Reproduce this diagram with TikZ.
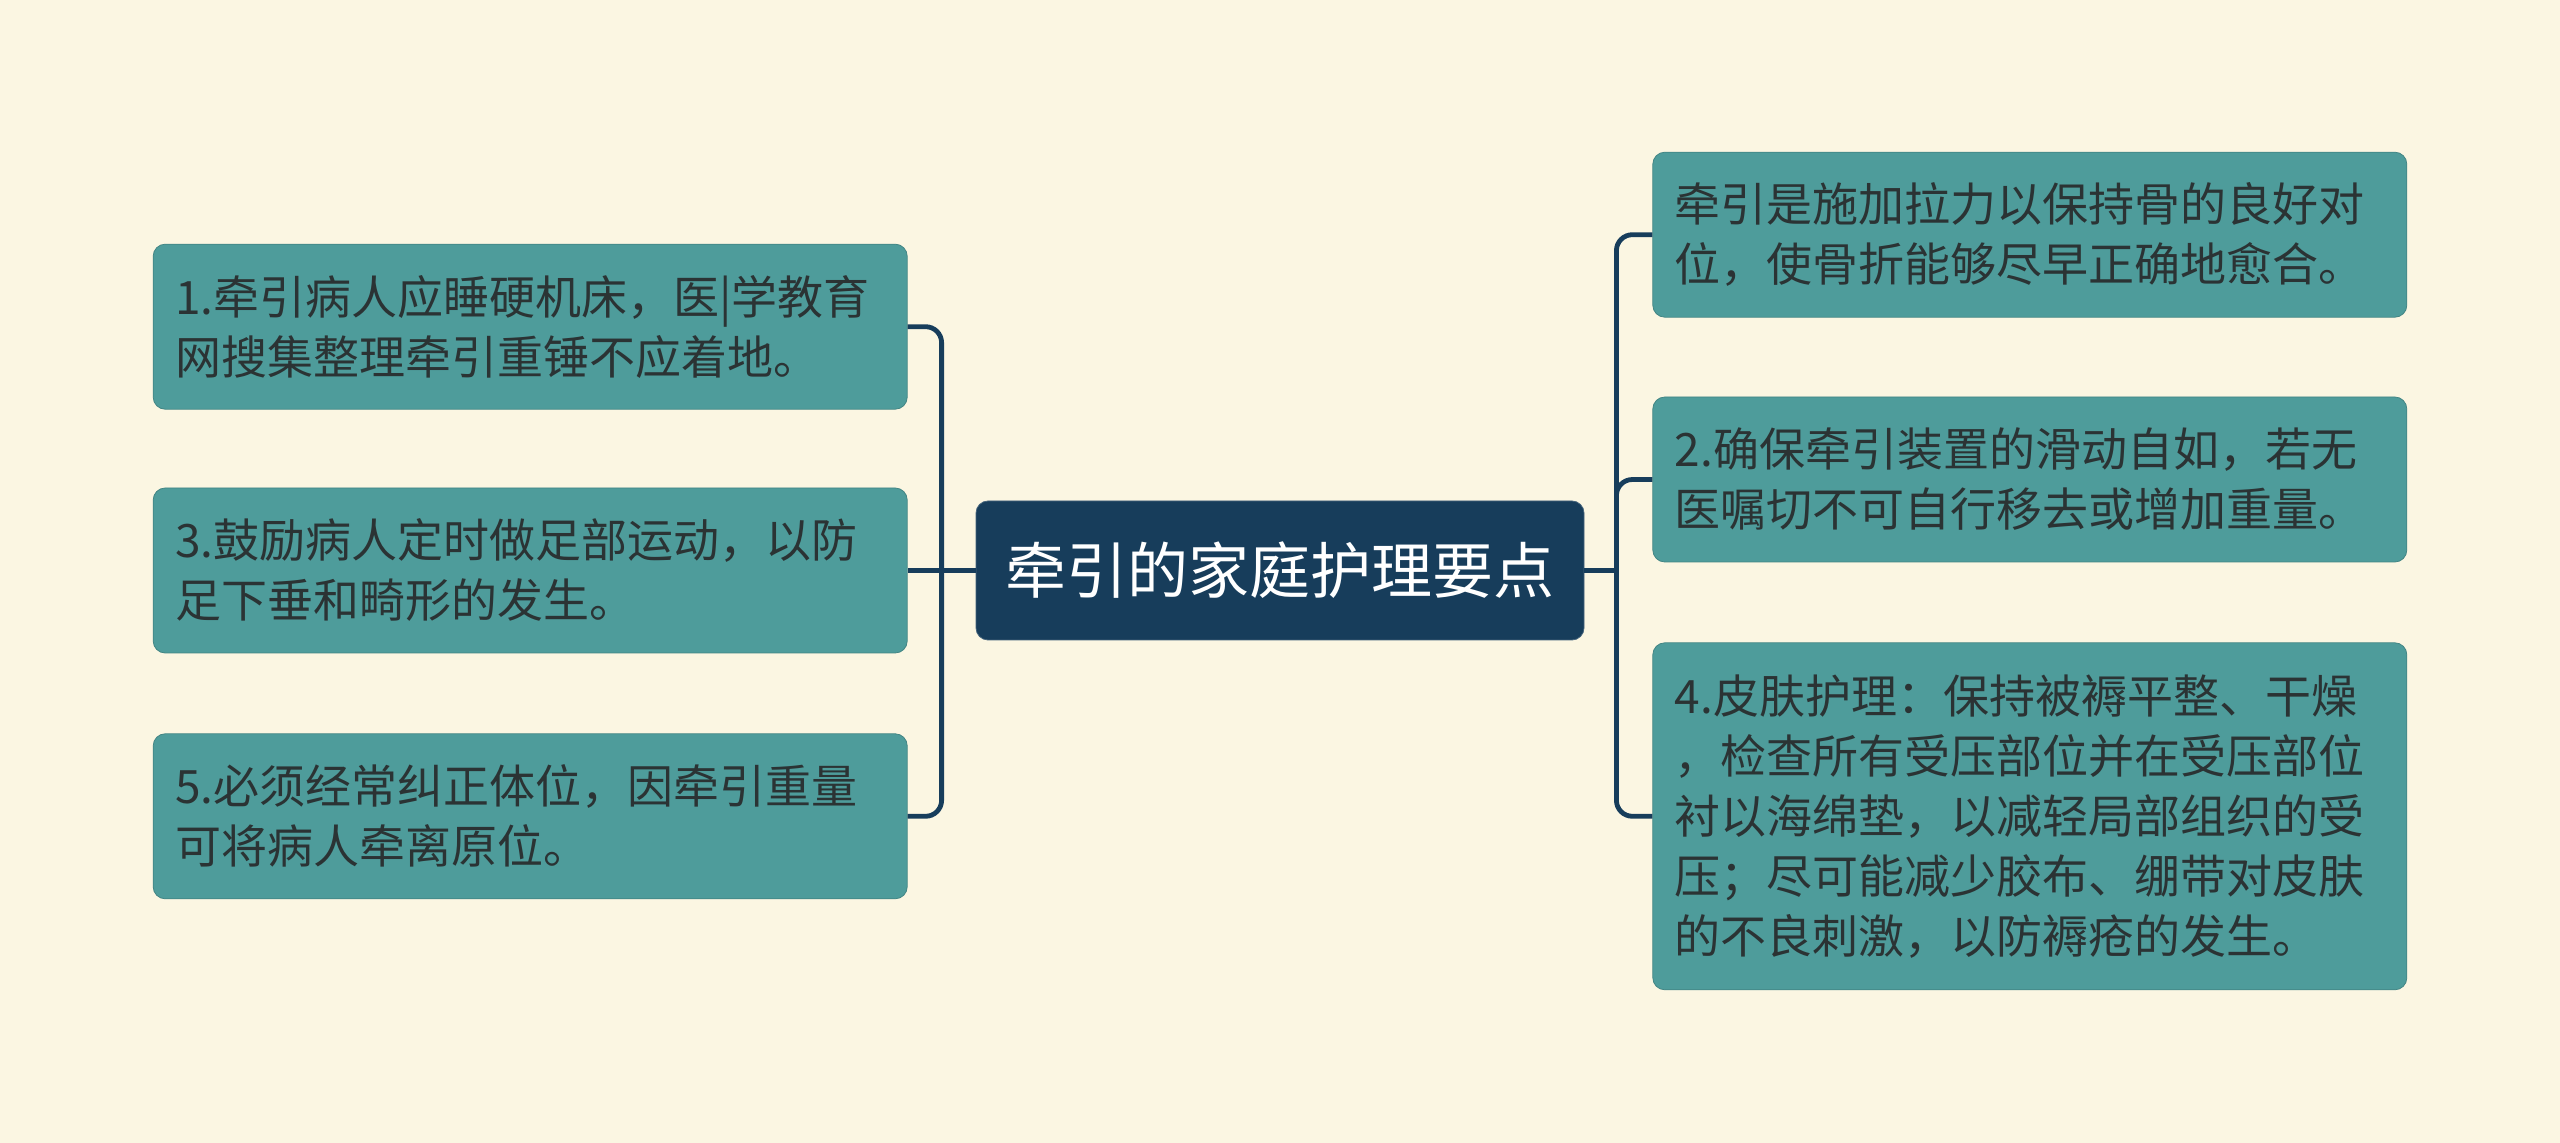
\documentclass[tikz,border=0pt]{standalone}
\usepackage{fontspec}
\setmainfont{Noto Sans CJK SC}
\usetikzlibrary{positioning}
\definecolor{bgcream}{HTML}{FBF6E2}
\definecolor{leafteal}{HTML}{4E9C9B}
\definecolor{rootnavy}{HTML}{173D5B}
\definecolor{leaftext}{HTML}{2B3334}

\begin{document}
\begin{tikzpicture}[x=0.5pt, y=-0.5pt,
			% 中心主题,深蓝色圆角长方形
			rootnode/.style={rectangle, rounded corners=6pt, fill=rootnavy, draw=rootnavy!80!white, text=white, font=\fontsize{30.5}{36}\selectfont, minimum width=304pt, minimum height=69.5pt},
			% 分支主题,青色圆角长方形
			leafnode/.style={rectangle, rounded corners=6pt, fill=leafteal, draw=leafteal!85!black, text=leaftext, font=\fontsize{23}{30}\selectfont, align=left, text width=355pt, inner xsep=11pt, minimum height=82.5pt},
			% 连线
			branch/.style={draw=rootnavy, line width=2.4pt, rounded corners=8pt},
			% 看不见的点,用来连接折线
			point/.style={coordinate}
		]
		\fill[bgcream] (0,0) rectangle (2560,1143);
		\useasboundingbox (0,0) rectangle (2560,1143);

		\node[rootnode]      (root)     at (1280,570.5)                         {牵引的家庭护理要点};
		%Nodes left
		\node[leafnode]      (care3)    [left=34pt of root]                     {3.鼓励病人定时做足部运动，以防\\足下垂和畸形的发生。};
		\node[leafnode]      (care1)    [above=39pt of care3]                   {1.牵引病人应睡硬机床，医|学教育\\网搜集整理牵引重锤不应着地。};
		\node[leafnode]      (care5)    [below=40pt of care3]                   {5.必须经常纠正体位，因牵引重量\\可将病人牵离原位。};
		%Nodes right
		\node[leafnode]      (care2)    [right=34pt of root, yshift=45.5pt]     {2.确保牵引装置的滑动自如，若无\\医嘱切不可自行移去或增加重量。};
		\node[leafnode]      (intro)    [above=39.5pt of care2]                 {牵引是施加拉力以保持骨的良好对\\位，使骨折能够尽早正确地愈合。};
		\node[leafnode, minimum height=173.5pt]
		                     (care4)    [below=40pt of care2]                   {4.皮肤护理：保持被褥平整、干燥\\，检查所有受压部位并在受压部位\\衬以海绵垫，以减轻局部组织的受\\压；尽可能减少胶布、绷带对皮肤\\的不良刺激，以防褥疮的发生。};
		\node[point]         (lhub)     [left=17pt of root]                     {};
		\node[point]         (rhub)     [right=16pt of root]                    {};

		%Lines
		\draw[branch] (root.west)      --            (care3.east);
		\draw[branch] (care1.east)     -|            (lhub) |- (care5.east);
		\draw[branch] (root.east)      --            (rhub);
		\draw[branch] (intro.west)     -|            (rhub) |- (care4.west);
		\draw[branch] (rhub)           |-            (care2.west);
	\end{tikzpicture}
\end{document}
